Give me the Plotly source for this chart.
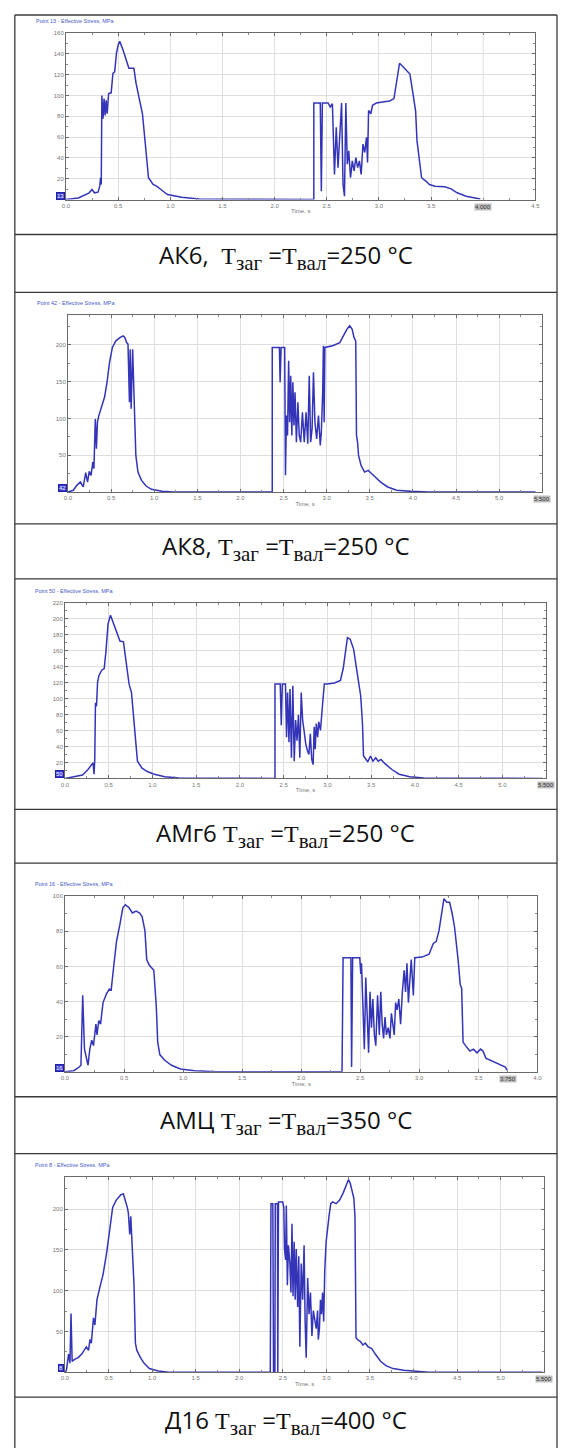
import plotly.graph_objects as go

W, H = 563, 1448

# Effective stress history (time, s ; stress, MPa) for the tracked point of each alloy
AK6 = [(0.000, 0), (0.119, 1.6), (0.222, 6.5), (0.249, 9.7), (0.273, 6.5), (0.307, 7.1), (0.324, 12.9),
       (0.331, 21), (0.338, 14.5), (0.344, 100), (0.355, 77.6), (0.365, 97), (0.375, 80.8), (0.385, 95.3),
       (0.395, 82.4), (0.409, 101.8), (0.433, 102.5), (0.450, 121.2), (0.467, 122.8), (0.484, 140.6),
       (0.501, 148.7), (0.515, 151.9), (0.546, 143.8), (0.580, 134.1), (0.603, 126), (0.651, 126),
       (0.672, 111.5), (0.733, 82.4), (0.754, 59.8), (0.774, 42), (0.791, 21), (0.835, 14.5), (0.869, 12.9),
       (0.910, 9.7), (0.972, 4.8), (1.108, 2.3), (1.279, 0.6), (2.376, 0), (2.376, 92.8), (2.438, 92.8),
       (2.448, 8.1), (2.458, 92.8), (2.513, 92.8), (2.533, 88.9), (2.554, 92.1), (2.574, 24.2), (2.591, 69.5),
       (2.608, 30.7), (2.625, 66.3), (2.642, 92.8), (2.656, 14.5), (2.670, 3.2), (2.683, 92.8), (2.697, 33.9),
       (2.711, 46.9), (2.728, 21), (2.745, 37.2), (2.762, 27.5), (2.779, 40.4), (2.796, 30.7), (2.813, 37.2),
       (2.830, 24.2), (2.847, 53.3), (2.864, 45.2), (2.881, 59.8), (2.891, 35.6), (2.901, 85.6), (2.922, 82.4),
       (2.939, 90.5), (2.976, 92.8), (3.034, 93.7), (3.103, 94.7), (3.144, 97), (3.171, 114.7), (3.198, 130.9),
       (3.229, 127.7), (3.263, 124.4), (3.297, 120.6), (3.324, 103.4), (3.352, 85), (3.365, 56.6),
       (3.386, 37.2), (3.409, 21), (3.450, 17.8), (3.484, 14.5), (3.536, 12.9), (3.631, 12.3), (3.692, 10.3),
       (3.750, 6.5), (3.836, 3.2), (3.904, 1.6), (3.972, 0.6)]

AK8 = [(0, 0), (0.062, 2.3), (0.103, 9), (0.144, 13.5), (0.177, 6.8), (0.206, 26.2), (0.227, 13.5),
       (0.247, 28), (0.268, 22.6), (0.288, 40.6), (0.301, 31.6), (0.317, 99.3), (0.330, 58.7), (0.342, 94.8),
       (0.358, 103.8), (0.391, 117.4), (0.424, 128.7), (0.453, 149), (0.482, 176), (0.515, 196.4),
       (0.556, 205.4), (0.606, 210), (0.639, 212), (0.659, 210), (0.680, 203), (0.696, 201), (0.713, 122),
       (0.721, 194), (0.733, 113), (0.750, 194), (0.770, 104), (0.787, 49.7), (0.812, 27), (0.853, 15.8),
       (0.906, 8.1), (0.968, 3.6), (1.092, 0.9), (1.215, 0), (2.369, 0), (2.369, 196.4), (2.452, 196.4),
       (2.460, 149), (2.472, 196.4), (2.513, 196.4), (2.522, 22.6), (2.534, 103.8), (2.546, 76.8),
       (2.559, 178.3), (2.571, 94.8), (2.583, 158), (2.596, 76.8), (2.608, 149), (2.621, 90.3), (2.633, 135.5),
       (2.649, 67.7), (2.666, 121.9), (2.682, 76.8), (2.699, 67.7), (2.719, 108.4), (2.740, 67.7),
       (2.761, 108.4), (2.781, 65.5), (2.798, 158), (2.814, 67.7), (2.831, 85.8), (2.847, 162.5), (2.864, 94.8),
       (2.884, 72.2), (2.905, 103.8), (2.926, 63.2), (2.938, 81.3), (2.954, 135.5), (2.962, 198.7),
       (2.971, 94.8), (2.979, 196.4), (3.070, 198.7), (3.152, 203), (3.193, 212), (3.234, 221), (3.267, 225.8),
       (3.296, 221), (3.317, 210), (3.337, 205.4), (3.346, 76.8), (3.358, 67.7), (3.370, 49.7), (3.399, 36.1),
       (3.440, 27), (3.481, 29.3), (3.523, 24.8), (3.564, 20.3), (3.626, 13.5), (3.708, 6.8), (3.811, 2.3),
       (3.976, 0.9), (4.18, 0), (5.42, 0)]

AMG6 = [(0, 0), (0.1, 2.2), (0.2, 4.3), (0.26, 10.8), (0.3, 17.2), (0.32, 19.4), (0.332, 5.2), (0.34, 23.7),
        (0.348, 94.6), (0.36, 90.3), (0.372, 120.4), (0.388, 129), (0.42, 135.5), (0.448, 137.6),
        (0.468, 159.1), (0.492, 193.5), (0.52, 204.3), (0.548, 195.7), (0.588, 182.8), (0.628, 172),
        (0.668, 171.1), (0.70, 141.9), (0.732, 118.3), (0.76, 107.5), (0.78, 81.7), (0.804, 43), (0.828, 21.5),
        (0.88, 12.9), (0.94, 8.6), (1.02, 5.2), (1.14, 2.2), (1.3, 0.4), (2.4, 0), (2.4, 118.3), (2.46, 118.3),
        (2.472, 66.7), (2.484, 118.3), (2.52, 118.3), (2.532, 51.6), (2.544, 107.5), (2.56, 45.2),
        (2.572, 111.8), (2.588, 25.8), (2.604, 116.1), (2.62, 21.5), (2.636, 73.1), (2.652, 47.3),
        (2.668, 79.6), (2.684, 25.8), (2.70, 107.5), (2.716, 73.1), (2.732, 60.2), (2.752, 43), (2.772, 34.4),
        (2.788, 30.1), (2.804, 55.9), (2.82, 23.7), (2.836, 17.2), (2.848, 64.5), (2.86, 36.6), (2.872, 68.8),
        (2.888, 51.6), (2.90, 71), (2.92, 60.2), (2.94, 81.7), (2.952, 103.2), (2.964, 118.3), (3.0, 118.3),
        (3.08, 119.5), (3.148, 122.6), (3.18, 137.6), (3.212, 167.7), (3.228, 176.3), (3.26, 174.2),
        (3.30, 161.3), (3.332, 137.6), (3.36, 116.1), (3.38, 103.2), (3.40, 68.8), (3.412, 28), (3.428, 25.8),
        (3.46, 20.6), (3.492, 28), (3.52, 21.5), (3.552, 25.8), (3.58, 21.5), (3.612, 23.7), (3.66, 18.1),
        (3.74, 10.8), (3.82, 5.2), (3.94, 2.2), (4.10, 0.4), (5.46, 0)]

AMC = [(0, 0), (0.075, 0.6), (0.12, 2.7), (0.135, 3.7), (0.15, 43.5), (0.165, 12.9), (0.195, 3.7),
       (0.21, 12.9), (0.226, 18), (0.241, 14.9), (0.262, 27.1), (0.271, 21), (0.286, 29.2), (0.301, 27.1),
       (0.322, 39.4), (0.352, 44.5), (0.376, 47.1), (0.391, 46.5), (0.412, 59.8), (0.436, 74.1), (0.466, 84.3),
       (0.490, 93.5), (0.511, 95.1), (0.541, 93.5), (0.571, 90.4), (0.602, 91.5), (0.632, 90.4), (0.653, 88.4),
       (0.677, 80.2), (0.692, 63.9), (0.713, 60.8), (0.752, 57.8), (0.773, 37.3), (0.785, 16.9), (0.803, 9.8),
       (0.842, 6.7), (0.902, 3.7), (0.977, 1.6), (1.098, 0.6), (1.278, 0), (2.346, 0), (2.355, 64.9),
       (2.391, 64.9), (2.421, 64.9), (2.427, 2.7), (2.436, 64.9), (2.496, 64.9), (2.505, 55.7), (2.511, 61.8),
       (2.526, 29.2), (2.535, 12.9), (2.547, 53.7), (2.559, 31.2), (2.571, 10.8), (2.583, 45.5), (2.595, 25.1),
       (2.607, 41.4), (2.62, 21), (2.632, 14.9), (2.647, 43.5), (2.662, 21), (2.674, 45.5), (2.686, 27.1),
       (2.698, 19), (2.71, 31.2), (2.722, 21), (2.737, 25.1), (2.752, 19), (2.764, 33.3), (2.776, 25.1),
       (2.788, 21), (2.8, 39.4), (2.812, 35.3), (2.827, 41.4), (2.842, 27.1), (2.857, 45.5), (2.872, 57.8),
       (2.884, 45.5), (2.896, 61.8), (2.908, 39.4), (2.92, 55.7), (2.932, 63.9), (2.95, 43.5), (2.962, 64.9),
       (3.023, 65.3), (3.083, 66.9), (3.119, 73.1), (3.143, 74.1), (3.167, 80.2), (3.188, 90.4), (3.209, 98.6),
       (3.233, 96.5), (3.257, 96.5), (3.278, 90.4), (3.299, 82.3), (3.329, 63.9), (3.347, 49.6), (3.359, 47.6),
       (3.371, 16.9), (3.392, 14.9), (3.428, 11.8), (3.459, 12.9), (3.489, 10.8), (3.519, 12.9), (3.54, 11.8),
       (3.564, 7.8), (3.6, 6.7), (3.639, 5.1), (3.684, 3.7), (3.729, 2.7), (3.744, 1.0)]

D16 = [(0, 0), (0.016, 2.2), (0.041, 22.2), (0.057, 11.1), (0.069, 72), (0.082, 13.3), (0.11, 15.6),
       (0.151, 17.8), (0.192, 22.2), (0.22, 26.7), (0.245, 31.1), (0.27, 26.7), (0.286, 40), (0.302, 35.6),
       (0.327, 66.7), (0.343, 57.8), (0.367, 88.9), (0.396, 102.2), (0.437, 120), (0.478, 146.7),
       (0.519, 182.2), (0.547, 202.2), (0.588, 211.1), (0.641, 217.8), (0.67, 218.7), (0.694, 211.1),
       (0.715, 202.2), (0.727, 195.6), (0.743, 168.9), (0.755, 191.1), (0.768, 160), (0.792, 106.7),
       (0.808, 35.6), (0.825, 26.7), (0.866, 17.8), (0.906, 11.1), (0.968, 4.4), (1.07, 1.3), (1.192, 0),
       (2.356, 0), (2.364, 206.7), (2.385, 206.7), (2.393, 0), (2.409, 0), (2.413, 206.7), (2.438, 206.7),
       (2.442, 0), (2.45, 208.9), (2.499, 208.9), (2.511, 202.2), (2.519, 151.1), (2.532, 137.8),
       (2.54, 204.4), (2.552, 106.7), (2.564, 155.6), (2.581, 133.3), (2.593, 97.8), (2.605, 182.2),
       (2.617, 93.3), (2.63, 160), (2.642, 88.9), (2.654, 151.1), (2.67, 80), (2.683, 142.2), (2.695, 31.1),
       (2.711, 133.3), (2.728, 88.9), (2.744, 155.6), (2.756, 62.2), (2.768, 17.8), (2.785, 115.6),
       (2.801, 71.1), (2.817, 97.8), (2.834, 44.4), (2.85, 75.6), (2.866, 62.2), (2.883, 53.3), (2.899, 75.6),
       (2.907, 40), (2.92, 53.3), (2.932, 88.9), (2.944, 71.1), (2.956, 97.8), (2.969, 62.2), (2.981, 124.4),
       (2.997, 160), (3.013, 177.8), (3.03, 191.1), (3.05, 206.7), (3.071, 208.9), (3.111, 206.7),
       (3.152, 211.1), (3.193, 220), (3.234, 231.1), (3.254, 236.4), (3.275, 231.1), (3.295, 222.2),
       (3.315, 213.3), (3.328, 191.1), (3.34, 42.2), (3.356, 40), (3.389, 37.8), (3.418, 33.3), (3.446, 35.6),
       (3.479, 31.1), (3.52, 28.9), (3.561, 22.2), (3.622, 13.3), (3.683, 8), (3.765, 4.4), (3.887, 2.2),
       (4.01, 0.9), (4.173, 0), (5.48, 0)]

# Captions (alloy, billet / roll temperature)
ALLOYS = ["АК6,&nbsp;", "АК8,", "АМг6", "АМЦ", "Д16"]
TEMPS = [250, 250, 250, 350, 400]
POINTS = [13, 42, 50, 16, 8]
SERIES = [AK6, AK8, AMG6, AMC, D16]
X_MAX = [4.5, 5.5, 5.5, 4.0, 5.5]
Y_MAX = [160, 240, 220, 100, 240]
Y_STEP = [20, 50, 20, 20, 50]
END_TIME = [4.0, 5.5, 5.5, 3.75, 5.5]

# Panel layout in page pixels: plot box (left, right, top, bottom) and table rows
PLOT_BOX = [(63, 540, 30, 197), (65, 547, 313, 490), (62, 551, 601, 777),
            (62, 542, 895, 1071), (62, 549, 1176, 1372)]
ROW_LINES = [12, 232, 290, 522, 577, 808, 862, 1096, 1153, 1397]
CAPTION_Y = [254, 546, 833, 1121, 1421]
TABLE_L, TABLE_R = 11, 562

LINE_BLUE = "#3434b8"
GRID = "#dedede"
SMALL = 6
TITLE_SIZE = 5.5
TICK_FONT = dict(family="Liberation Sans", size=SMALL, color="#777777")
CAP_BASE = 30     # annotation size: subscripts come out at 70 % of it
CAP_MAIN = 24     # size of the regular caption characters


def px(x):
    return x / W


def py(y):
    return 1 - y / H


def main(text):
    return f"<span style=\"font-size:{CAP_MAIN}px\">{text}</span>"


def temp_symbol(index):
    return (f"<span style=\"font-family:Liberation Serif;font-size:{CAP_MAIN}px\">Т</span>"
            f"<span style=\"font-family:Liberation Serif\"><sub>{index}</sub></span>")


fig = go.Figure()
shapes = []
annotations = []

for i, data in enumerate(SERIES):
    n = "" if i == 0 else str(i + 1)
    t = [p[0] for p in data]
    s = [p[1] for p in data]
    fig.add_trace(go.Scatter(x=t, y=s, mode="lines", xaxis="x" + n, yaxis="y" + n,
                             line=dict(color=LINE_BLUE, width=1.5), showlegend=False,
                             hoverinfo="skip"))
    l, r, top, bot = PLOT_BOX[i]
    xmax, ymax, ystep = X_MAX[i], Y_MAX[i], Y_STEP[i]

    # labelled time ticks; the current-time box takes the place of the tick at END_TIME
    xt = [k * 0.5 for k in range(int(round(xmax / 0.5)) + 1)]
    xt = [v for v in xt if abs(v - END_TIME[i]) > 1e-9]
    yt = [k * ystep for k in range(1, int(ymax // ystep) + 1)]

    fig.layout["xaxis" + n] = dict(
        domain=[px(l), px(r)], anchor="y" + n, range=[0, xmax],
        tickmode="array", tickvals=xt, ticktext=[f"{v:.1f}" for v in xt], tickfont=TICK_FONT,
        showgrid=True, gridcolor=GRID, gridwidth=1, zeroline=False,
        showline=True, linecolor="#6a6a6a", linewidth=1, mirror="ticks",
        ticks="inside", ticklen=3, tickcolor="#6a6a6a",
        minor=dict(dtick=0.25, ticks="inside", ticklen=2, tickcolor="#8a8a8a", showgrid=False),
        title=dict(text="Time, s", font=dict(family="Liberation Sans", size=SMALL, color="#777777"),
                   standoff=1),
        fixedrange=True)
    fig.layout["yaxis" + n] = dict(
        domain=[py(bot), py(top)], anchor="x" + n, range=[0, ymax],
        tickmode="array", tickvals=yt, ticktext=[str(v) for v in yt], tickfont=TICK_FONT,
        showgrid=True, gridcolor=GRID, gridwidth=1, zeroline=False,
        showline=True, linecolor="#6a6a6a", linewidth=1, mirror="ticks",
        ticks="inside", ticklen=3, tickcolor="#6a6a6a",
        minor=dict(dtick=ystep / 2, ticks="inside", ticklen=2, tickcolor="#8a8a8a", showgrid=False),
        fixedrange=True)

    # grid line under the current-time box when it falls inside the axis
    if END_TIME[i] < xmax:
        shapes.append(dict(type="line", xref="x" + n, yref="y" + n, x0=END_TIME[i], x1=END_TIME[i],
                           y0=0, y1=ymax, layer="below", line=dict(color=GRID, width=1)))

    # curve title above the plot
    annotations.append(dict(
        text=f"Point {POINTS[i]} - Effective Stress, MPa", xref="paper", yref="paper",
        x=px(l - 33), y=py(top - 12), xanchor="left", yanchor="middle", showarrow=False,
        font=dict(family="Liberation Sans", size=TITLE_SIZE, color="#4458c8")))
    # point marker at the origin
    annotations.append(dict(
        text=str(POINTS[i]), xref="x" + n, yref="y" + n, x=0, y=0, xanchor="right", yanchor="bottom",
        xshift=-1, showarrow=False, bgcolor="#3838d0", bordercolor="#2020a0", borderwidth=1, borderpad=0,
        font=dict(family="Liberation Sans", size=SMALL, color="#ffffff")))
    # current time marker on the time axis
    annotations.append(dict(
        text=f"{END_TIME[i]:.3f}", xref="x" + n, yref="paper", x=END_TIME[i], y=py(bot + 3),
        xanchor="center", yanchor="top", showarrow=False, bgcolor="#bdbdbd", borderpad=0,
        font=dict(family="Liberation Sans", size=SMALL, color="#333333")))

    # caption row text
    caption = (main(ALLOYS[i] + " ") + temp_symbol("заг") + main(" =") + temp_symbol("вал")
               + main(f"={TEMPS[i]} °C"))
    annotations.append(dict(
        text=caption, xref="paper", yref="paper", x=px((TABLE_L + TABLE_R) / 2), y=py(CAPTION_Y[i]),
        xanchor="center", yanchor="middle", showarrow=False,
        font=dict(family="Open Sans", size=CAP_BASE, color="#111111")))

# table grid
for y in ROW_LINES:
    shapes.append(dict(type="line", xref="paper", yref="paper", x0=px(TABLE_L), x1=px(TABLE_R),
                       y0=py(y), y1=py(y), line=dict(color="#3a3a3a", width=1.3)))
for x in (TABLE_L, TABLE_R):
    shapes.append(dict(type="line", xref="paper", yref="paper", x0=px(x), x1=px(x),
                       y0=py(ROW_LINES[0]), y1=0, line=dict(color="#3a3a3a", width=1.3)))

fig.update_layout(width=W, height=H, margin=dict(l=0, r=0, t=0, b=0),
                  paper_bgcolor="white", plot_bgcolor="white",
                  shapes=shapes, annotations=annotations)

fig.write_html("out.html", config={"displayModeBar": False})
